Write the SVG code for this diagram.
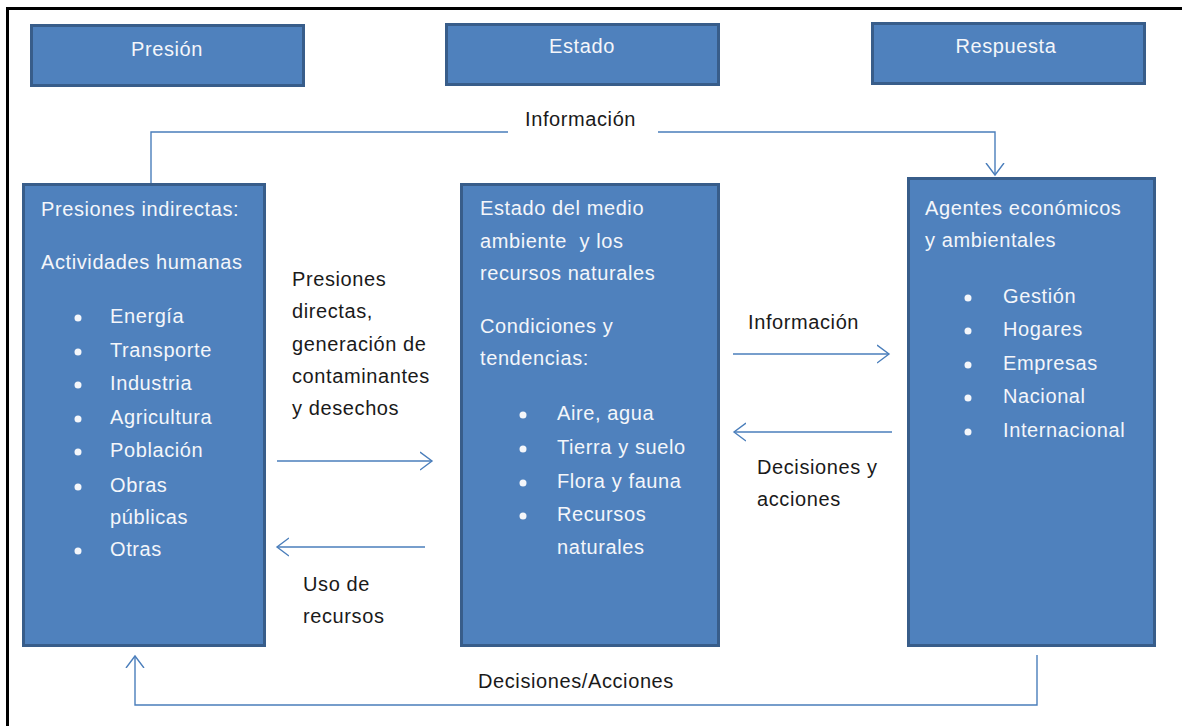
<svg xmlns="http://www.w3.org/2000/svg" width="1182" height="726" viewBox="0 0 1182 726">
<defs>
<style>
.box{fill:#4F81BD;stroke:#385D8A;stroke-width:3}
.t{font-family:"Liberation Sans",Arial,sans-serif;font-size:20px;letter-spacing:0.6px}
.w{fill:#F4F6FA}
.k{fill:#1A1A1A}
.c{fill:none;stroke:#4A7EBB;stroke-width:1.4}
.b{fill:#F4F6FA}
</style>
<marker id="ah" markerUnits="userSpaceOnUse" markerWidth="14" markerHeight="20" viewBox="0 0 14 20" refX="12" refY="10" orient="auto">
<path d="M0,1 L12,10 L0,19" fill="none" stroke="#4A7EBB" stroke-width="1.4"/>
</marker>
</defs>
<rect x="0" y="0" width="1182" height="726" fill="#FFFFFF"/>
<g id="frame">
<line x1="6" y1="8.5" x2="1182" y2="8.5" stroke="#000" stroke-width="3"/>
<line x1="7.5" y1="7" x2="7.5" y2="726" stroke="#000" stroke-width="3"/>
</g>

<g id="connectors">
<polyline class="c" points="151,183 151,132 508,132"/>
<polyline class="c" points="658,132 995,132 995,175" marker-end="url(#ah)"/>
<polyline class="c" points="1037,655 1037,705 135,705 135,656" marker-end="url(#ah)"/>
<line class="c" x1="277" y1="461" x2="432" y2="461" marker-end="url(#ah)"/>
<line class="c" x1="425" y1="547" x2="277" y2="547" marker-end="url(#ah)"/>
<line class="c" x1="733" y1="354" x2="889" y2="354" marker-end="url(#ah)"/>
<line class="c" x1="892" y1="432" x2="734" y2="432" marker-end="url(#ah)"/>
</g>

<g id="labels">
<text class="t k" x="525" y="126">Información</text>
<text class="t k" x="292"><tspan x="292" y="286">Presiones</tspan><tspan x="292" y="318">directas,</tspan><tspan x="292" y="351">generación de</tspan><tspan x="292" y="383">contaminantes</tspan><tspan x="292" y="415">y desechos</tspan></text>
<text class="t k" x="303"><tspan x="303" y="591">Uso de</tspan><tspan x="303" y="623">recursos</tspan></text>
<text class="t k" x="748" y="329">Información</text>
<text class="t k" x="757"><tspan x="757" y="474">Decisiones y</tspan><tspan x="757" y="506">acciones</tspan></text>
<text class="t k" x="478" y="688">Decisiones/Acciones</text>
</g>

<g id="presion">
<rect class="box" x="31.5" y="25.5" width="272" height="60"/>
<text class="t w" x="167" y="56" text-anchor="middle">Presión</text>
</g>
<g id="estado">
<rect class="box" x="446.5" y="24.5" width="272" height="60"/>
<text class="t w" x="582" y="53" text-anchor="middle">Estado</text>
</g>
<g id="respuesta">
<rect class="box" x="872.5" y="23.5" width="272" height="60"/>
<text class="t w" x="1006" y="53" text-anchor="middle">Respuesta</text>
</g>

<g id="presiones-indirectas">
<rect class="box" x="23.5" y="184.5" width="241" height="461"/>
<text class="t w" x="41" y="216">Presiones indirectas:</text>
<text class="t w" x="41" y="269">Actividades humanas</text>
<g class="b">
<circle cx="78" cy="318" r="3.5"/><circle cx="78" cy="352" r="3.5"/><circle cx="78" cy="385" r="3.5"/><circle cx="78" cy="419" r="3.5"/><circle cx="78" cy="452" r="3.5"/><circle cx="78" cy="487" r="3.5"/><circle cx="78" cy="551" r="3.5"/>
</g>
<text class="t w"><tspan x="110" y="323">Energía</tspan><tspan x="110" y="357">Transporte</tspan><tspan x="110" y="390">Industria</tspan><tspan x="110" y="424">Agricultura</tspan><tspan x="110" y="457">Población</tspan><tspan x="110" y="492">Obras</tspan><tspan x="110" y="524">públicas</tspan><tspan x="110" y="556">Otras</tspan></text>
</g>

<g id="estado-medio">
<rect class="box" x="461.5" y="184.5" width="257" height="461"/>
<text class="t w" xml:space="preserve"><tspan x="480" y="215">Estado del medio</tspan><tspan x="480" y="248">ambiente  y los</tspan><tspan x="480" y="280">recursos naturales</tspan><tspan x="480" y="333">Condiciones y</tspan><tspan x="480" y="365">tendencias:</tspan></text>
<g class="b">
<circle cx="523" cy="415" r="3.5"/><circle cx="523" cy="449" r="3.5"/><circle cx="523" cy="483" r="3.5"/><circle cx="523" cy="516" r="3.5"/>
</g>
<text class="t w"><tspan x="557" y="420">Aire, agua</tspan><tspan x="557" y="454">Tierra y suelo</tspan><tspan x="557" y="488">Flora y fauna</tspan><tspan x="557" y="521">Recursos</tspan><tspan x="557" y="554">naturales</tspan></text>
</g>

<g id="agentes">
<rect class="box" x="908.5" y="178.5" width="246" height="467"/>
<text class="t w"><tspan x="925" y="215">Agentes económicos</tspan><tspan x="925" y="247">y ambientales</tspan></text>
<g class="b">
<circle cx="968" cy="298" r="3.5"/><circle cx="968" cy="331" r="3.5"/><circle cx="968" cy="365" r="3.5"/><circle cx="968" cy="398" r="3.5"/><circle cx="968" cy="432" r="3.5"/>
</g>
<text class="t w"><tspan x="1003" y="303">Gestión</tspan><tspan x="1003" y="336">Hogares</tspan><tspan x="1003" y="370">Empresas</tspan><tspan x="1003" y="403">Nacional</tspan><tspan x="1003" y="437">Internacional</tspan></text>
</g>
</svg>
